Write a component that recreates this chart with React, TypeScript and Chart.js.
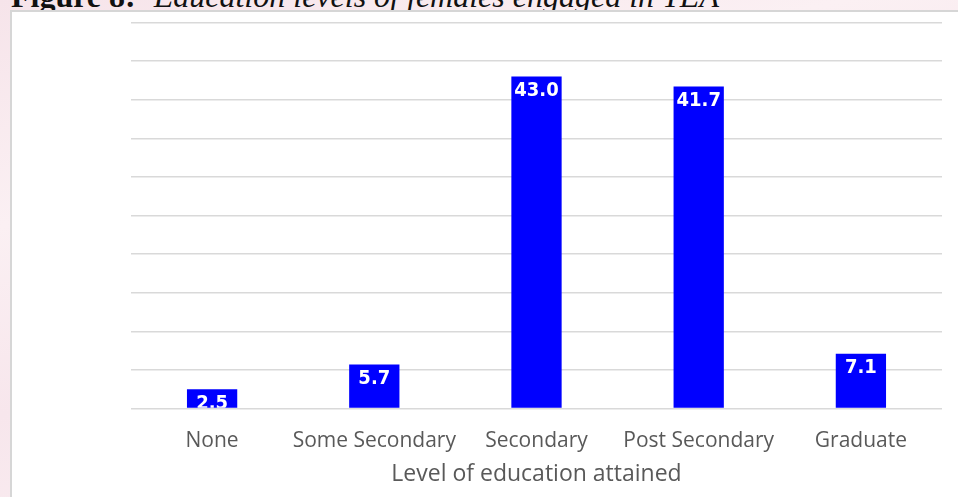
import React, { useEffect, useRef } from "react";
import { Chart, registerables } from "chart.js";

Chart.register(...registerables);

// Education levels of females engaged in YEA (percent)
const categories: string[] = ["None", "Some Secondary", "Secondary", "Post Secondary", "Graduate"];
const shares: number[] = [2.5, 5.7, 43.0, 41.7, 7.1];
const axisMax = 50;
const axisStep = 5;
const xTitle = "Level of education attained";
const figureLabel = "Figure 8:";
const figureCaption = "Education levels of females engaged in YEA";

const W = 958;
const H = 497;

// White value labels just inside the top of each bar, clipped to the plot area
const barLabels = {
  id: "barLabels",
  afterDatasetsDraw(chart: any) {
    const { ctx, chartArea } = chart;
    const meta = chart.getDatasetMeta(0);
    ctx.save();
    ctx.beginPath();
    ctx.rect(chartArea.left, chartArea.top, chartArea.right - chartArea.left, chartArea.bottom - chartArea.top - 0.8);
    ctx.clip();
    ctx.fillStyle = "#ffffff";
    ctx.font = "bold 20px 'DejaVu Sans Condensed', 'DejaVu Sans', sans-serif";
    ctx.textAlign = "center";
    ctx.textBaseline = "top";
    meta.data.forEach((bar: any, i: number) => {
      const v = chart.data.datasets[0].data[i] as number;
      ctx.fillText(v.toFixed(1), bar.x, bar.y + 4.5);
    });
    ctx.restore();
  },
};

export default function App() {
  const ref = useRef<HTMLCanvasElement | null>(null);

  useEffect(() => {
    if (!ref.current) return;
    const chart = new Chart(ref.current, {
      type: "bar",
      data: {
        labels: categories,
        datasets: [
          {
            data: shares,
            backgroundColor: "#0000ff",
            borderWidth: 0,
            categoryPercentage: 1,
            barPercentage: 0.31,
          },
        ],
      },
      options: {
        responsive: false,
        animation: false,
        devicePixelRatio: 1,
        layout: { padding: { left: 131, right: 16, top: 22.5, bottom: 0 } },
        plugins: {
          legend: { display: false },
          tooltip: { enabled: false },
          title: { display: false },
        },
        scales: {
          x: {
            grid: { display: false, drawTicks: false },
            border: { display: false },
            ticks: {
              color: "#595959",
              font: { family: "'Open Sans', sans-serif", size: 21 },
              padding: 20,
              maxRotation: 0,
              autoSkip: false,
            },
            title: {
              display: true,
              text: xTitle,
              color: "#595959",
              font: { family: "'Open Sans', sans-serif", size: 23 },
              padding: { top: 0, bottom: 9 },
            },
            afterFit: (s: any) => {
              s.height = 88.5;
            },
          },
          y: {
            min: 0,
            max: axisMax,
            ticks: { display: false, stepSize: axisStep },
            grid: { color: "#d9d9d9", lineWidth: 1.6, drawTicks: false },
            border: { display: false },
            afterFit: (s: any) => {
              s.width = 0;
            },
          },
        },
      },
      plugins: [barLabels],
    });
    return () => chart.destroy();
  }, []);

  return (
    <div
      style={{
        position: "fixed",
        left: 0,
        top: 0,
        width: W,
        height: H,
        overflow: "hidden",
        background: "linear-gradient(165deg, #f6e4ea 0%, #fbf0f3 30%, #f7e6ec 55%, #fcf3f5 100%)",
      }}
    >
      <div
        style={{
          position: "absolute",
          left: 11,
          top: -20.5,
          fontFamily: "'Liberation Serif', 'Times New Roman', serif",
          fontSize: 32,
          lineHeight: "32px",
          color: "#111",
          whiteSpace: "nowrap",
        }}
      >
        <b style={{ marginRight: 18 }}>{figureLabel}</b>
        <i>{figureCaption}</i>
      </div>
      <div
        style={{
          position: "absolute",
          left: 10,
          top: 10,
          width: 1000,
          height: 1000,
          boxSizing: "border-box",
          border: "2px solid #d6d6d6",
          background: "#ffffff",
        }}
      />
      <canvas
        ref={ref}
        width={W}
        height={H}
        style={{ position: "absolute", left: 0, top: 0, width: W, height: H }}
      />
    </div>
  );
}
